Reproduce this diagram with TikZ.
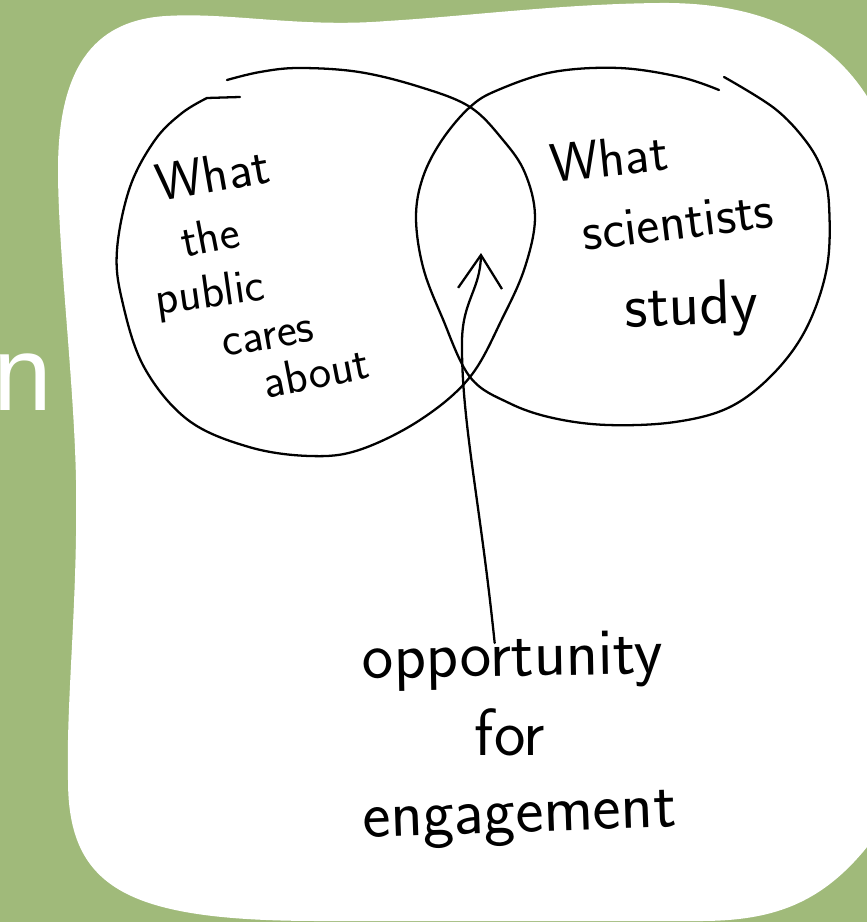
\documentclass[tikz,border=0pt]{standalone}
\usepackage{fontspec}
\newfontfamily\titlefont{Liberation Sans}
\usepackage{xcolor}
\usetikzlibrary{arrows.meta,positioning}
\definecolor{sage}{RGB}{160,186,122}

\begin{document}
\begin{tikzpicture}[x=0.02cm,y=-0.02cm,>={Straight Barb[length=19pt,width=25pt]},
  pen/.style={line width=1.3pt,line cap=round,line join=round},
  hand/.style={font=\sffamily\fontsize{#1}{#1}\selectfont,anchor=base,inner sep=0pt},
  hand/.default=27]
  \useasboundingbox (0,0) rectangle (867,922);
  \fill[sage] (0,0) rectangle (867,922);
  % white card
  \fill[white] (166,16) .. controls (230,12) and (300,28) .. (387,21)
    .. controls (470,16) and (560,4) .. (660,3)
    .. controls (760,2) and (840,35) .. (880,120) -- (880,830)
    .. controls (830,900) and (780,921) .. (700,921) -- (320,921)
    .. controls (130,921) and (68,890) .. (68,780)
    .. controls (66,700) and (78,600) .. (76,480)
    .. controls (74,380) and (58,250) .. (58,170)
    .. controls (58,60) and (100,20) .. (166,16) -- cycle;
  \node[font=\titlefont\fontsize{60}{60}\selectfont,text=white,anchor=base east,inner sep=0pt] (tail) at (52,410) {n};

  % left set
  \draw[pen] plot[smooth,tension=0.6] coordinates {
    (227,80) (260,72) (299,68) (359,72) (420,87) (470,107) (503,140)
    (525,173) (535,217) (525,267) (503,317) (470,377) (420,420) (359,450)
    (310,456) (249,447) (188,420) (144,367) (122,300) (117,250) (130,187)
    (155,140) (182,113) (207,98)} -- (240,97);
  % right set
  \draw[pen] plot[smooth,tension=0.6] coordinates {
    (719,90) (680,77) (619,68) (553,72) (498,90) (470,107) (442,140)
    (423,177) (416,217) (423,267) (442,317) (470,377) (509,403) (553,418)
    (608,425) (675,422) (730,407) (774,373) (807,327) (827,267) (829,205)
    (822,170) (805,140) (774,108) (724,77)};

  \node[hand=30,rotate=10] (pub1) at (216,192) {What};
  \node[hand,rotate=11] (pub2) at (213,252) {the};
  \node[hand,rotate=8] (pub3) at (212,307) {public};
  \node[hand,rotate=10] (pub4) at (270,349) {cares};
  \node[hand,rotate=11] (pub5) at (319,388) {about};

  \node[hand=31,rotate=6] (sci1) at (611,176) {What};
  \node[hand=31,rotate=7] (sci2) at (680,239) {scientists};
  \node[hand=36,rotate=2] (sci3) at (692,325) {study};

  \node[hand=38,rotate=1] (oppo) at (513,676) {opportunity};
  \node[hand=38] (for) at (510,755) {for};
  \node[hand=38,rotate=2] (engage) at (520,832) {engagement};

  \coordinate (lens) at (481,253);
  \draw[pen,->] ([xshift=-10pt,yshift=-6pt]oppo.north) .. controls (480,500) and (461,420) .. (462,340)
    .. controls (463,300) and (480,290) .. (lens);
\end{tikzpicture}
\end{document}
